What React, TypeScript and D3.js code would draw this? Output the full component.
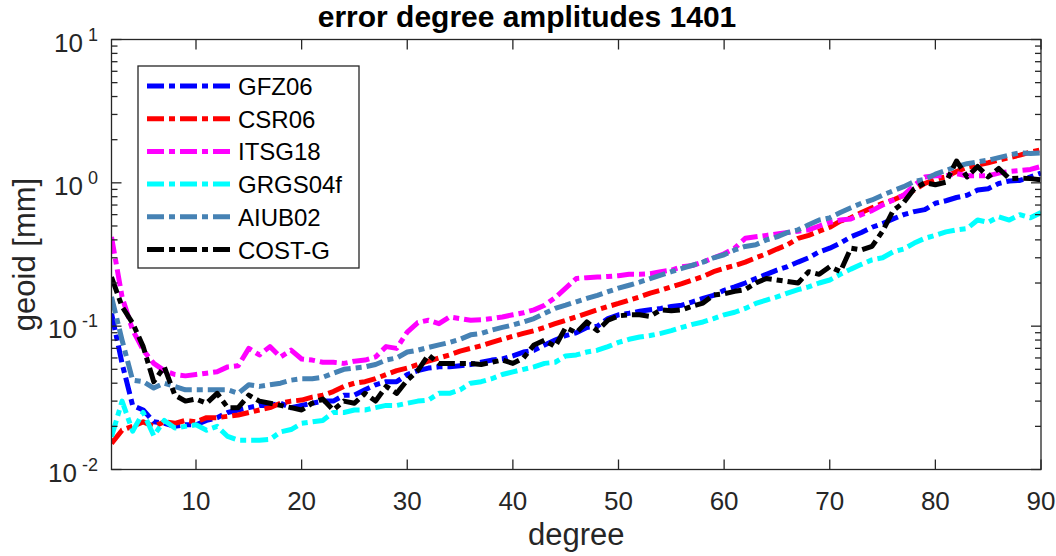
import React from "react";
import * as d3 from "d3";

// spherical harmonic degree (x axis)
const degrees = [
  2, 3, 4, 5, 6, 7, 8, 9, 10, 11, 12, 13, 14, 15, 16, 17, 18, 19, 20, 21, 22, 23, 24, 25, 26, 27, 28, 29, 30,
  31, 32, 33, 34, 35, 36, 37, 38, 39, 40, 41, 42, 43, 44, 45, 46, 47, 48, 49, 50, 51, 52, 53, 54, 55, 56, 57, 58, 59, 60,
  61, 62, 63, 64, 65, 66, 67, 68, 69, 70, 71, 72, 73, 74, 75, 76, 77, 78, 79, 80, 81, 82, 83, 84, 85, 86, 87, 88, 89, 90,
];

// geoid error degree amplitudes [mm]
const gfz06 = [
  0.123, 0.055, 0.028, 0.026, 0.0215, 0.021, 0.02, 0.0205, 0.0205, 0.022, 0.023, 0.025, 0.026, 0.027, 0.028, 0.028, 0.029, 0.027, 0.028,
  0.029, 0.03, 0.03, 0.033, 0.033, 0.036, 0.039, 0.041, 0.041, 0.046, 0.049, 0.051, 0.052, 0.052, 0.053, 0.054, 0.056, 0.058, 0.059, 0.062,
  0.066, 0.068, 0.074, 0.08, 0.086, 0.09, 0.098, 0.1, 0.113, 0.12, 0.123, 0.127, 0.13, 0.133, 0.137, 0.14, 0.148, 0.156, 0.164, 0.178,
  0.188, 0.2, 0.215, 0.23, 0.246, 0.26, 0.28, 0.3, 0.33, 0.35, 0.38, 0.42, 0.45, 0.49, 0.52, 0.56, 0.6, 0.63, 0.65, 0.72,
  0.75, 0.79, 0.82, 0.89, 0.91, 0.99, 1.03, 1.04, 1.1, 1.17,
];
const csr06 = [
  0.0152, 0.0188, 0.02, 0.0215, 0.02, 0.0215, 0.021, 0.022, 0.0215, 0.023, 0.023, 0.0235, 0.024, 0.025, 0.026, 0.027, 0.029, 0.03, 0.0305,
  0.032, 0.033, 0.035, 0.038, 0.04, 0.041, 0.043, 0.046, 0.049, 0.051, 0.054, 0.057, 0.06, 0.063, 0.067, 0.07, 0.073, 0.077, 0.081, 0.085,
  0.089, 0.093, 0.098, 0.104, 0.11, 0.116, 0.123, 0.13, 0.137, 0.144, 0.152, 0.16, 0.17, 0.178, 0.188, 0.198, 0.21, 0.222, 0.24, 0.253,
  0.265, 0.28, 0.3, 0.32, 0.345, 0.37, 0.41, 0.43, 0.46, 0.49, 0.54, 0.57, 0.62, 0.67, 0.72, 0.76, 0.82, 0.89, 0.99, 1.06,
  1.1, 1.2, 1.28, 1.33, 1.38, 1.44, 1.5, 1.56, 1.64, 1.7,
];
const itsg18 = [
  0.42, 0.16, 0.094, 0.068, 0.055, 0.049, 0.046, 0.045, 0.046, 0.047, 0.048, 0.052, 0.053, 0.07, 0.063, 0.072, 0.061, 0.068, 0.059,
  0.058, 0.056, 0.056, 0.055, 0.057, 0.058, 0.061, 0.072, 0.07, 0.091, 0.106, 0.11, 0.104, 0.116, 0.113, 0.11, 0.111, 0.113, 0.116, 0.12,
  0.124, 0.13, 0.14, 0.158, 0.184, 0.215, 0.218, 0.22, 0.222, 0.225, 0.23, 0.23, 0.232, 0.24, 0.246, 0.26, 0.265, 0.28, 0.3, 0.32,
  0.35, 0.41, 0.42, 0.43, 0.44, 0.45, 0.46, 0.47, 0.5, 0.53, 0.55, 0.56, 0.6, 0.64, 0.7, 0.76, 0.82, 0.96, 1.1, 1.12,
  1.12, 1.16, 1.12, 1.12, 1.12, 1.17, 1.2, 1.22, 1.24, 1.3,
];
const grgs04f = [
  0.0169, 0.03, 0.0185, 0.025, 0.0172, 0.022, 0.0195, 0.02, 0.0205, 0.0188, 0.02, 0.017, 0.016, 0.016, 0.016, 0.0162, 0.0183, 0.019, 0.021,
  0.0215, 0.022, 0.025, 0.025, 0.026, 0.026, 0.027, 0.028, 0.028, 0.029, 0.03, 0.0305, 0.034, 0.034, 0.036, 0.04, 0.041, 0.043, 0.046, 0.048,
  0.05, 0.052, 0.055, 0.056, 0.062, 0.063, 0.066, 0.068, 0.072, 0.077, 0.081, 0.084, 0.086, 0.089, 0.093, 0.098, 0.103, 0.107, 0.113, 0.12,
  0.125, 0.133, 0.144, 0.152, 0.16, 0.17, 0.18, 0.188, 0.2, 0.21, 0.23, 0.25, 0.27, 0.29, 0.3, 0.33, 0.345, 0.38, 0.41, 0.43,
  0.455, 0.47, 0.48, 0.55, 0.53, 0.58, 0.55, 0.6, 0.57, 0.62,
];
const aiub02 = [
  0.16, 0.08, 0.042, 0.041, 0.037, 0.04, 0.038, 0.036, 0.036, 0.036, 0.036, 0.036, 0.034, 0.039, 0.038, 0.039, 0.04, 0.042, 0.043,
  0.043, 0.044, 0.047, 0.05, 0.051, 0.052, 0.054, 0.058, 0.06, 0.066, 0.068, 0.071, 0.074, 0.077, 0.081, 0.087, 0.089, 0.094, 0.098, 0.102,
  0.107, 0.113, 0.123, 0.133, 0.14, 0.148, 0.156, 0.164, 0.174, 0.184, 0.193, 0.203, 0.215, 0.227, 0.24, 0.253, 0.266, 0.28, 0.3, 0.315,
  0.34, 0.36, 0.37, 0.4, 0.42, 0.45, 0.47, 0.51, 0.55, 0.57, 0.62, 0.67, 0.72, 0.76, 0.82, 0.88, 0.94, 1.02, 1.06, 1.15,
  1.22, 1.3, 1.36, 1.4, 1.44, 1.5, 1.56, 1.62, 1.6, 1.62,
];
const costG = [
  0.22, 0.137, 0.105, 0.072, 0.041, 0.052, 0.033, 0.03, 0.031, 0.029, 0.034, 0.027, 0.027, 0.033, 0.03, 0.029, 0.028, 0.027, 0.026,
  0.029, 0.031, 0.026, 0.03, 0.029, 0.034, 0.03, 0.038, 0.034, 0.042, 0.049, 0.063, 0.055, 0.055, 0.055, 0.055, 0.054, 0.056, 0.058, 0.055,
  0.06, 0.074, 0.08, 0.072, 0.098, 0.09, 0.107, 0.093, 0.11, 0.118, 0.12, 0.12, 0.117, 0.13, 0.128, 0.13, 0.138, 0.145, 0.165, 0.168,
  0.175, 0.18, 0.2, 0.215, 0.21, 0.205, 0.2, 0.24, 0.23, 0.26, 0.24, 0.35, 0.34, 0.36, 0.46, 0.64, 0.73, 0.91, 1.0, 0.97,
  1.01, 1.42, 1.1, 1.3, 1.1, 1.26, 1.07, 1.08, 1.07, 1.05,
];

const seriesNames = ["GFZ06", "CSR06", "ITSG18", "GRGS04f", "AIUB02", "COST-G"];
const seriesColors = ["#0000ff", "#ff0000", "#ff00ff", "#00ffff", "#4682b4", "#000000"];

const xTicks = [10, 20, 30, 40, 50, 60, 70, 80, 90];
const yDecades = [0.01, 0.1, 1, 10];
const yExponents = ["-2", "-1", "0", "1"];

const FONT = "'Liberation Sans', Arial, Helvetica, sans-serif";
const AXIS = "#262626";

export default function App() {
  const width = 1056;
  const height = 556;
  const left = 111.5;
  const right = 1041;
  const top = 39.5;
  const bottom = 469.5;

  const x = d3.scaleLinear().domain([2, 90]).range([left, right]);
  const y = d3.scaleLog().domain([0.01, 10]).range([bottom, top]);

  const line = d3
    .line<number>()
    .x((_, i) => x(degrees[i]))
    .y((v) => y(v));

  const series = [gfz06, csr06, itsg18, grgs04f, aiub02, costG];

  const isDecade = (t: number) => Math.abs(Math.log10(t) - Math.round(Math.log10(t))) < 1e-9;
  const minorTicks = y.ticks().filter((t) => !isDecade(t));

  const dash = "17 5 6 5";
  const lineW = 5;

  const legendX = 138;
  const legendY = 66;
  const legendRow = 32.7;

  return (
    <svg
      width={width}
      height={height}
      style={{ position: "absolute", left: 0, top: 0, background: "#fff" }}
      fontFamily={FONT}
    >
      <defs>
        <clipPath id="plot-clip">
          <rect x={left} y={top} width={right - left} height={bottom - top} />
        </clipPath>
      </defs>

      {/* title */}
      <text x={527} y={27} textAnchor="middle" fontSize={30} fontWeight="bold" fill="#000">
        error degree amplitudes 1401
      </text>

      {/* series */}
      <g clipPath="url(#plot-clip)">
        {series.map((s, k) => (
          <path
            key={seriesNames[k]}
            d={line(s) || ""}
            fill="none"
            stroke={seriesColors[k]}
            strokeWidth={lineW}
            strokeDasharray={dash}
            strokeLinejoin="round"
          />
        ))}
      </g>

      {/* axes box */}
      <rect x={left} y={top} width={right - left} height={bottom - top} fill="none" stroke={AXIS} strokeWidth={1.3} />

      {/* x ticks */}
      {xTicks.map((t) => (
        <g key={"x" + t}>
          <line x1={x(t)} x2={x(t)} y1={bottom} y2={bottom - 10} stroke={AXIS} strokeWidth={1.3} />
          <line x1={x(t)} x2={x(t)} y1={top} y2={top + 10} stroke={AXIS} strokeWidth={1.3} />
          <text x={x(t)} y={510} textAnchor="middle" fontSize={26} fill={AXIS}>
            {t}
          </text>
        </g>
      ))}

      {/* y minor ticks */}
      {minorTicks.map((t) => (
        <g key={"ym" + t}>
          <line x1={left} x2={left + 6} y1={y(t)} y2={y(t)} stroke={AXIS} strokeWidth={1.3} />
          <line x1={right} x2={right - 6} y1={y(t)} y2={y(t)} stroke={AXIS} strokeWidth={1.3} />
        </g>
      ))}

      {/* y major ticks and labels */}
      {yDecades.map((t, i) => (
        <g key={"y" + t}>
          <line x1={left} x2={left + 10} y1={y(t)} y2={y(t)} stroke={AXIS} strokeWidth={1.3} />
          <line x1={right} x2={right - 10} y1={y(t)} y2={y(t)} stroke={AXIS} strokeWidth={1.3} />
          <text x={98} y={y(t) + 12} textAnchor="end" fontSize={26} fill={AXIS}>
            10
            <tspan dx={5} dy={-11} fontSize={18}>
              {yExponents[i]}
            </tspan>
          </text>
        </g>
      ))}

      {/* axis labels */}
      <text x={(left + right) / 2} y={545} textAnchor="middle" fontSize={31} fill={AXIS}>
        degree
      </text>
      <text
        transform={`translate(35, ${(top + bottom) / 2}) rotate(-90)`}
        textAnchor="middle"
        fontSize={31}
        fill={AXIS}
      >
        geoid [mm]
      </text>

      {/* legend */}
      <rect x={legendX} y={legendY} width={221} height={202} fill="#fff" stroke={AXIS} strokeWidth={1.3} />
      {seriesNames.map((name, k) => {
        const ly = 86 + k * legendRow;
        return (
          <g key={"leg" + name}>
            <line
              x1={147}
              x2={230}
              y1={ly}
              y2={ly}
              stroke={seriesColors[k]}
              strokeWidth={lineW}
              strokeDasharray={dash}
            />
            <text x={238} y={ly + 9} fontSize={24} fill="#000">
              {name}
            </text>
          </g>
        );
      })}
    </svg>
  );
}
